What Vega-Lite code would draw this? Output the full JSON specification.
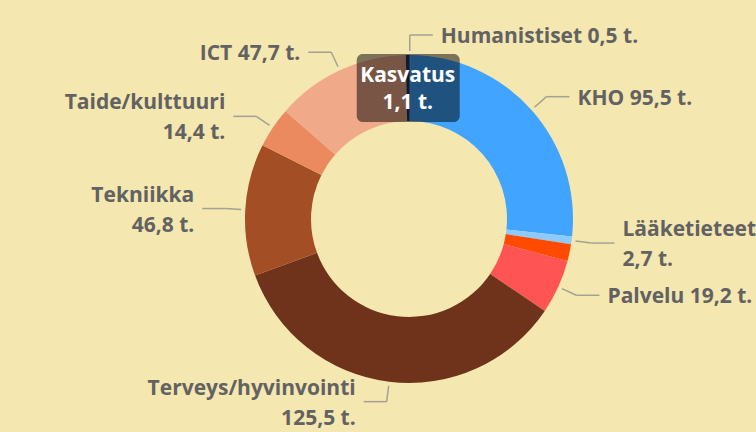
{
  "$schema": "https://vega.github.io/schema/vega-lite/v6.json",
  "autosize": {"type": "none"},
  "padding": {"left": 109, "top": 19, "right": 47, "bottom": 13},
  "width": 600,
  "height": 400,
  "background": "#f5e7b0",
  "config": {"view": {"stroke": null}, "text": {"font": "Open Sans"}},
  "data": {
    "values": [
      {"name": "Humanistiset", "value": 0.5, "label": "Humanistiset 0,5 t."},
      {"name": "KHO", "value": 95.5, "label": "KHO 95,5 t."},
      {"name": "Lääketieteet", "value": 2.7, "label": "Lääketieteet\n2,7 t."},
      {"name": "Muu", "value": 6.0, "label": null},
      {"name": "Palvelu", "value": 19.2, "label": "Palvelu 19,2 t."},
      {"name": "Terveys/hyvinvointi", "value": 125.5, "label": "Terveys/hyvinvointi\n125,5 t."},
      {"name": "Tekniikka", "value": 46.8, "label": "Tekniikka\n46,8 t."},
      {"name": "Taide/kulttuuri", "value": 14.4, "label": "Taide/kulttuuri\n14,4 t."},
      {"name": "ICT", "value": 47.7, "label": "ICT 47,7 t."},
      {"name": "Kasvatus", "value": 1.1, "label": "Kasvatus\n1,1 t."}
    ]
  },
  "transform": [
    {"window": [{"op": "row_number", "as": "i"}]},
    {"joinaggregate": [{"op": "sum", "field": "value", "as": "total"}]},
    {"window": [{"op": "sum", "field": "value", "as": "cum"}], "sort": [{"field": "i"}], "frame": [null, 0]},
    {"calculate": "2*PI*(datum.cum - datum.value/2)/datum.total", "as": "am"},
    {"calculate": "sin(datum.am) >= 0 ? 1 : -1", "as": "side"},
    {"calculate": "168*sin(datum.am)", "as": "sx"},
    {"calculate": "-168*cos(datum.am)", "as": "sy"},
    {"calculate": "184*sin(datum.am)", "as": "ex"},
    {"calculate": "-184*cos(datum.am)", "as": "ey"},
    {"calculate": "datum.ex + 23*datum.side", "as": "hx"},
    {"calculate": "datum.ex + 31*datum.side", "as": "lx"},
    {"calculate": "datum.label != null && indexof(datum.label, '\\n') >= 0 ? datum.ey - 15 : datum.ey", "as": "ty"},
    {"calculate": "131*sin(datum.am)", "as": "kx"},
    {"calculate": "-131*cos(datum.am)", "as": "ky"},
    {"calculate": "datum.ky - 13.5", "as": "kty"}
  ],
  "layer": [
    {
      "mark": {"type": "arc", "innerRadius": 98, "outerRadius": 164},
      "encoding": {
        "theta": {"field": "value", "type": "quantitative", "stack": true},
        "order": {"field": "i", "type": "quantitative"},
        "color": {
          "field": "name",
          "type": "nominal",
          "legend": null,
          "scale": {
            "domain": ["Humanistiset", "KHO", "Lääketieteet", "Muu", "Palvelu", "Terveys/hyvinvointi", "Tekniikka", "Taide/kulttuuri", "ICT", "Kasvatus"],
            "range": ["#2c6db5", "#41a4ff", "#8ccbff", "#ff4a00", "#ff5454", "#6f331b", "#a44e25", "#eb8a5f", "#f0aa8a", "#1a3560"]
          }
        }
      }
    },
    {
      "transform": [{"filter": "datum.label != null && datum.name != 'Kasvatus'"}],
      "mark": {"type": "rule", "color": "#a3a196", "strokeWidth": 1.5},
      "encoding": {
        "x": {"field": "sx", "type": "quantitative", "scale": {"domain": [-300, 300]}, "axis": null},
        "y": {"field": "sy", "type": "quantitative", "scale": {"domain": [-200, 200], "reverse": true}, "axis": null},
        "x2": {"field": "ex"},
        "y2": {"field": "ey"}
      }
    },
    {
      "transform": [{"filter": "datum.label != null && datum.name != 'Kasvatus'"}],
      "mark": {"type": "rule", "color": "#a3a196", "strokeWidth": 1.5},
      "encoding": {
        "x": {"field": "ex", "type": "quantitative", "scale": {"domain": [-300, 300]}, "axis": null},
        "y": {"field": "ey", "type": "quantitative", "scale": {"domain": [-200, 200], "reverse": true}, "axis": null},
        "x2": {"field": "hx"},
        "y2": {"field": "ey"}
      }
    },
    {
      "transform": [{"filter": "datum.label != null && datum.name != 'Kasvatus' && datum.side > 0"}],
      "mark": {"type": "text", "align": "left", "baseline": "middle", "dy": 2, "fontSize": 21, "fontWeight": "bold", "color": "#626262", "lineBreak": "\n", "lineHeight": 30},
      "encoding": {
        "x": {"field": "lx", "type": "quantitative", "scale": {"domain": [-300, 300]}, "axis": null},
        "y": {"field": "ty", "type": "quantitative", "scale": {"domain": [-200, 200], "reverse": true}, "axis": null},
        "text": {"field": "label"}
      }
    },
    {
      "transform": [{"filter": "datum.label != null && datum.name != 'Kasvatus' && datum.side < 0"}],
      "mark": {"type": "text", "align": "right", "baseline": "middle", "dy": 2, "fontSize": 21, "fontWeight": "bold", "color": "#626262", "lineBreak": "\n", "lineHeight": 30},
      "encoding": {
        "x": {"field": "lx", "type": "quantitative", "scale": {"domain": [-300, 300]}, "axis": null},
        "y": {"field": "ty", "type": "quantitative", "scale": {"domain": [-200, 200], "reverse": true}, "axis": null},
        "text": {"field": "label"}
      }
    },
    {
      "transform": [{"filter": "datum.name == 'Kasvatus'"}],
      "mark": {"type": "rect", "color": "#000000", "opacity": 0.5, "cornerRadius": 6, "xOffset": -51, "x2Offset": 52, "yOffset": -34, "y2Offset": 34},
      "encoding": {
        "x": {"field": "kx", "type": "quantitative", "scale": {"domain": [-300, 300]}, "axis": null},
        "y": {"field": "ky", "type": "quantitative", "scale": {"domain": [-200, 200], "reverse": true}, "axis": null},
        "x2": {"field": "kx"},
        "y2": {"field": "ky"}
      }
    },
    {
      "transform": [{"filter": "datum.name == 'Kasvatus'"}],
      "mark": {"type": "text", "align": "center", "baseline": "middle", "dy": 1, "fontSize": 21, "fontWeight": "bold", "color": "#ffffff", "lineBreak": "\n", "lineHeight": 27},
      "encoding": {
        "x": {"field": "kx", "type": "quantitative", "scale": {"domain": [-300, 300]}, "axis": null},
        "y": {"field": "kty", "type": "quantitative", "scale": {"domain": [-200, 200], "reverse": true}, "axis": null},
        "text": {"field": "label"}
      }
    }
  ]
}
